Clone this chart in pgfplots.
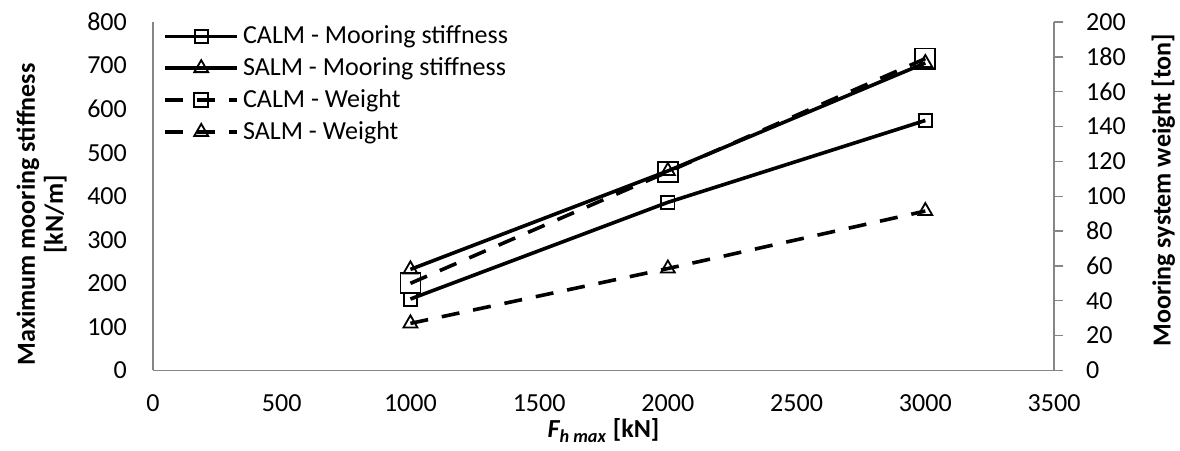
\documentclass[border=0pt]{standalone}
\usepackage{fontspec}
\setmainfont{Carlito}
\usepackage{pgfplots}
\pgfplotsset{compat=1.18}
\definecolor{axgray}{HTML}{868686}
\pgfplotsset{
  common/.style={
    scale only axis, width=450pt, height=174pt,
    xmin=0, xmax=3500,
    /pgf/number format/assume math mode=true,
    /pgf/number format/set thousands separator={},
    tick label style={font=\fontsize{13}{14}\selectfont},
    label style={font=\fontsize{13}{14}\selectfont\bfseries},
  },
  stiff/.style={black, line width=1.8pt},
  wgt/.style={black, line width=1.8pt, dash pattern=on 9pt off 7pt},
}
\begin{document}
\begin{tikzpicture}
\begin{axis}[common, name=ax1,
  ymin=0, ymax=800,
  xtick={0,500,...,3500}, ytick={0,100,...,800},
  axis x line*=bottom, axis y line*=left,
  axis line style={axgray, line width=0.7pt, -},
  major tick length=0pt,
  xticklabel style={anchor=north, yshift=-8.6pt},
  yticklabel style={anchor=east, xshift=-9.5pt},
  xlabel={\textit{F\textsubscript{h max}} [kN]},
  ylabel={Maximum mooring stiffness\\{}[kN/m]},
  ylabel style={align=center, at={([xshift=-71.7pt,yshift=-9pt]axis description cs:0,0.5)}, anchor=north},
  xlabel style={at={([yshift=-20.7pt]axis description cs:0.5,0)}, anchor=north},
]
\addplot[stiff, mark=square, mark size=3.3pt, mark options={solid, line width=0.9pt}]
  coordinates {(1000,164) (2000,386) (3000,574)};
\addplot[stiff, mark=triangle, mark size=4pt, mark options={solid, line width=0.9pt}]
  coordinates {(1000,232) (2000,458) (3000,706)};
\end{axis}
\begin{axis}[common,
  ymin=0, ymax=200, ytick={0,20,...,200},
  axis x line=none, axis y line*=right,
  axis line style={axgray, line width=0.7pt, -},
  ytick style={axgray, line width=0.7pt},
  tick align=outside, major tick length=4.5pt,
  yticklabel style={anchor=west, xshift=8pt},
  ylabel={Mooring system weight [ton]},
  ylabel style={at={([xshift=45.2pt,yshift=3pt]axis description cs:1,0.5)}, anchor=north},
  legend style={draw=none, fill=none, at={([xshift=5pt,yshift=0.3pt]axis description cs:0,1)}, anchor=north west,
    font=\fontsize{13}{14}\selectfont, row sep=1.4pt, inner sep=0pt},
  legend cell align=left,
  legend image code/.code={\draw[mark repeat=2, mark phase=2, #1] plot coordinates {(0pt,0pt) (18pt,0pt) (36pt,0pt)};},
]
\addlegendimage{stiff, mark=square, mark size=3.3pt, mark options={solid, line width=0.9pt}}
\addlegendentry{CALM - Mooring stiffness}
\addlegendimage{stiff, mark=triangle, mark size=4pt, mark options={solid, line width=0.9pt}}
\addlegendentry{SALM - Mooring stiffness}
\addlegendimage{wgt, mark=square, mark size=3.5pt, mark options={solid, line width=0.9pt}}
\addlegendentry{CALM - Weight}
\addlegendimage{wgt, mark=triangle, mark size=4pt, mark options={solid, line width=0.9pt}}
\addlegendentry{SALM - Weight}
\addplot[wgt, mark=square, mark size=5pt, mark options={solid, line width=0.9pt}, forget plot]
  coordinates {(1000,50) (2000,114) (3000,179)};
\addplot[wgt, mark=triangle, mark size=4pt, mark options={solid, line width=0.9pt}, forget plot]
  coordinates {(1000,27) (2000,58.5) (3000,91.5)};
\end{axis}
\pgfresetboundingbox
\path ([xshift=-76.4pt,yshift=-40pt]ax1.south west) rectangle ([xshift=62.9pt,yshift=11pt]ax1.north east);
\end{tikzpicture}
\end{document}
